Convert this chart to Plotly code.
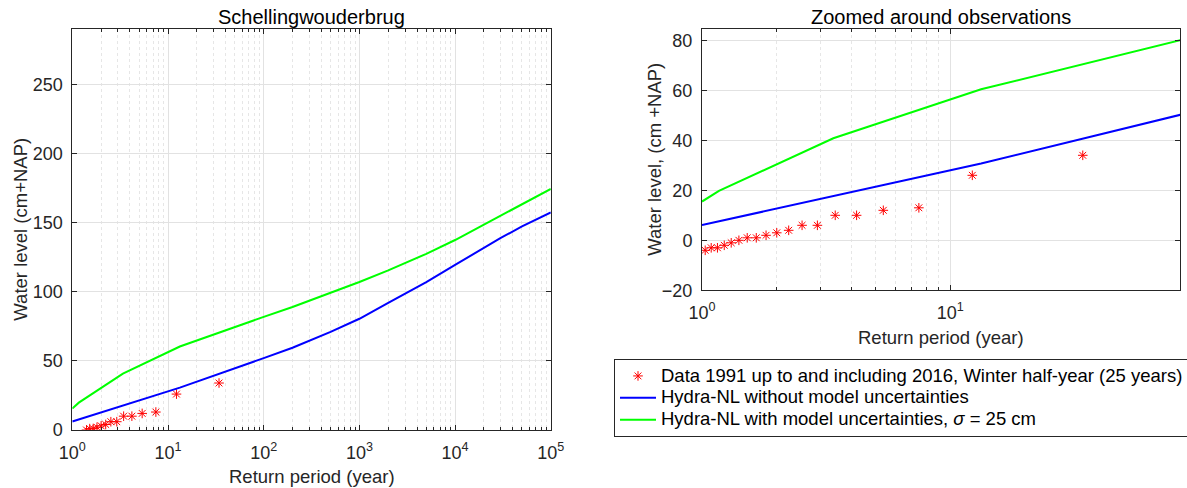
import plotly.graph_objects as go

# Observed winter half-year maxima: return period (year) and water level (cm +NAP)
obs_period = [34.14, 12.26, 7.469, 5.371, 4.193, 3.439, 2.915, 2.529, 2.234, 2.0,
              1.811, 1.654, 1.521, 1.408, 1.311, 1.229, 1.154, 1.089, 1.030]
obs_level = [34, 26, 13, 12, 10, 10, 6, 6, 4, 3, 2, 1, 1, 0, -1, -2, -3, -3, -4]

# Hydra-NL frequency lines
model_period = [1, 1.17, 3.38, 13.3, 100, 200, 500, 1000, 2000, 5000,
                10000, 20000, 30000, 50000, 100000]
level_no_unc = [6.1, 7.6, 17.6, 30.7, 52, 59.5, 71, 80.5, 92, 107,
                119.5, 132, 139, 147.3, 157.5]
level_with_unc = [15.5, 19.8, 40.8, 60.4, 81.9, 89, 99.3, 107.1, 115.5, 127.5,
                  137.5, 148.5, 155, 163.5, 174.5]

left_yticks = [0, 50, 100, 150, 200, 250]
right_yticks = [-20, 0, 20, 40, 60, 80]

TXT = "#262626"
FONT = "Liberation Sans, Arial, sans-serif"
W, H = 1187, 488

fig = go.Figure()

# points below the lower limit are not shown in the overview panel
left_obs = [(t, v) for t, v in zip(obs_period, obs_level) if v >= 0]

star = dict(symbol="asterisk-open", size=8, color="#ff0000",
            line=dict(color="#ff0000", width=1))


def entry(s):
    # legend rows are spaced by the (smaller) legend font; the label itself is larger
    return f'<span style="font-size:18.5px">{s}</span>'


for xa, ya, pts, show in [("x", "y", left_obs, False),
                          ("x2", "y2", list(zip(obs_period, obs_level)), True)]:
    fig.add_trace(go.Scatter(
        x=[p[0] for p in pts], y=[p[1] for p in pts], mode="markers",
        marker=star, xaxis=xa, yaxis=ya, showlegend=show,
        name=entry("Data 1991 up to and including 2016, Winter half-year (25 years)")))
    fig.add_trace(go.Scatter(
        x=model_period, y=level_no_unc, mode="lines",
        line=dict(color="#0000ff", width=2), xaxis=xa, yaxis=ya, showlegend=show,
        name=entry("Hydra-NL without model uncertainties")))
    fig.add_trace(go.Scatter(
        x=model_period, y=level_with_unc, mode="lines",
        line=dict(color="#00ff00", width=2), xaxis=xa, yaxis=ya, showlegend=show,
        name=entry("Hydra-NL with model uncertainties, <i>σ</i> = 25 cm")))


def decade_minor(n_dec):
    vals = []
    for d in range(n_dec):
        for m in range(2, 10):
            vals.append(m * 10 ** d)
    return vals


def log_axis(domain, rng, n_dec, anchor):
    tv = [10 ** k for k in range(n_dec + 1)]
    return dict(
        type="log", domain=domain, range=rng, anchor=anchor, automargin=False,
        tickmode="array", tickvals=tv,
        ticktext=[f"10<sup>{k}</sup>" for k in range(n_dec + 1)],
        ticks="inside", ticklen=5, tickcolor=TXT, tickwidth=1,
        showline=True, linecolor=TXT, linewidth=1, mirror="allticks",
        showgrid=True, gridcolor="#e2e2e2", gridwidth=1,
        zeroline=False, ticklabelstandoff=6,
        tickfont=dict(family=FONT, size=18, color=TXT),
        minor=dict(tickmode="array", tickvals=decade_minor(n_dec),
                   ticks="inside", ticklen=3, tickcolor=TXT,
                   showgrid=True, gridcolor="#e6e6e6", griddash="dot",
                   gridwidth=1),
    )


def lin_axis(domain, rng, ticks, anchor):
    return dict(
        domain=domain, range=rng, anchor=anchor, automargin=False,
        tickmode="array", tickvals=ticks,
        ticks="inside", ticklen=5, tickcolor=TXT, tickwidth=1,
        showline=True, linecolor=TXT, linewidth=1, mirror="allticks",
        showgrid=True, gridcolor="#e2e2e2", gridwidth=1,
        zeroline=False, ticklabelstandoff=5,
        tickfont=dict(family=FONT, size=18, color=TXT),
    )


# axes boxes in pixels: left, right, top, bottom
L_box = (72.3, 550.8, 29.3, 430.0)
R_box = (702.0, 1180.3, 29.3, 290.3)


def xdom(b):
    return [b[0] / W, b[1] / W]


def ydom(b):
    return [(H - b[3]) / H, (H - b[2]) / H]


fig.update_layout(
    width=W, height=H,
    margin=dict(l=0, r=0, t=0, b=0, autoexpand=False),
    paper_bgcolor="white", plot_bgcolor="white",
    font=dict(family=FONT, color=TXT),
    xaxis=log_axis(xdom(L_box), [0, 5], 5, "y"),
    yaxis=lin_axis(ydom(L_box), [0, 290], left_yticks, "x"),
    xaxis2=log_axis(xdom(R_box), [0, 1.926], 1, "y2"),
    yaxis2=lin_axis(ydom(R_box), [-20, 84.4], right_yticks, "x2"),
    legend=dict(
        x=614 / W, y=(H - 398) / H, xanchor="left", yanchor="middle",
        bordercolor=TXT, borderwidth=1, bgcolor="white",
        font=dict(family=FONT, size=14.5, color="#000000"),
        tracegroupgap=0, itemwidth=36,
    ),
)


def text(x, y, s, size=18.5, angle=0, color="#000000"):
    fig.add_annotation(x=x / W, y=(H - y) / H, xref="paper", yref="paper",
                       text=s, showarrow=False, textangle=angle,
                       xanchor="center", yanchor="middle",
                       font=dict(family=FONT, size=size, color=color))


text((L_box[0] + L_box[1]) / 2, 17, "Schellingwouderbrug", size=20)
text((R_box[0] + R_box[1]) / 2, 17, "Zoomed around observations", size=20)
text((L_box[0] + L_box[1]) / 2, 476, "Return period (year)", color=TXT)
text((R_box[0] + R_box[1]) / 2, 337, "Return period (year)", color=TXT)
text(21, (L_box[2] + L_box[3]) / 2, "Water level (cm+NAP)", angle=-90, color=TXT)
text(655, (R_box[2] + R_box[3]) / 2, "Water level, (cm +NAP)", angle=-90, color=TXT)

fig.write_html("out.html")
